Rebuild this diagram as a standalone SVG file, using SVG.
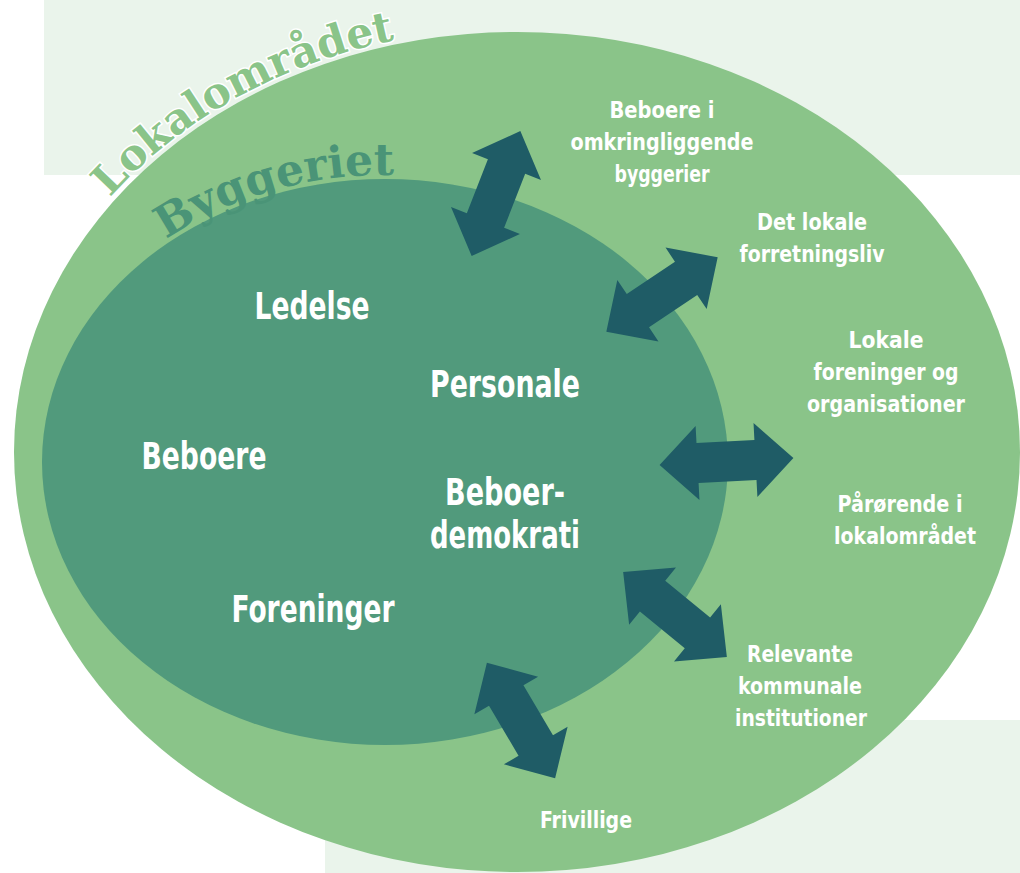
<svg xmlns="http://www.w3.org/2000/svg" xmlns:xlink="http://www.w3.org/1999/xlink" width="1020" height="873" viewBox="0 0 1020 873">
<style>
.lbl{font-family:'DejaVu Sans Condensed','Liberation Sans Narrow','Liberation Sans',sans-serif;font-weight:bold;fill:#ffffff;text-anchor:middle}
.sm{font-size:23px}
.lg{font-size:37px}
.arc{font-family:'DejaVu Serif','Liberation Serif',serif;font-weight:bold}
.arr{fill:#1f5c66}
</style>
<defs>
<path id="arr" d="M-67,0 L-29,-37 L-29,-20 L29,-20 L29,-37 L67,0 L29,37 L29,20 L-29,20 L-29,37 Z"/>
<path id="pLokal" d="M110,197.5 A507,424 0 0 1 605,34.4"/>
<path id="pBygg" d="M166.1,239.3 A347,287 0 0 1 503.7,192.3"/>
</defs>
<rect width="1020" height="873" fill="#ffffff"/>
<rect x="44" y="0" width="976" height="175" fill="#eaf4eb"/>
<rect x="325" y="720" width="695" height="153" fill="#eaf4eb"/>
<g id="lokalomraadet">
<ellipse cx="517" cy="452" rx="503" ry="420" fill="#8ac489"/>
<text class="arc" font-size="42.5" fill="#8ac489" stroke="#ffffff" stroke-width="3" paint-order="stroke"><textPath xlink:href="#pLokal" href="#pLokal">Lokalområdet</textPath></text>
</g>
<g id="byggeriet">
<ellipse cx="385" cy="462" rx="343" ry="283" fill="#519a7c"/>
<text class="arc" font-size="44" fill="#4a9477"><textPath xlink:href="#pBygg" href="#pBygg">Byggeriet</textPath></text>
</g>
<g id="connectors" class="arr">
<use href="#arr" xlink:href="#arr" transform="translate(496,193.5) rotate(-68.7)"/>
<use href="#arr" xlink:href="#arr" transform="translate(662,294.5) rotate(-33.8)"/>
<use href="#arr" xlink:href="#arr" transform="translate(726.5,461.5) rotate(-3)"/>
<use href="#arr" xlink:href="#arr" transform="translate(675,614.5) rotate(39.3)"/>
<use href="#arr" xlink:href="#arr" transform="translate(521,720.5) rotate(59.4)"/>
</g>
<g id="ledelse"><text class="lbl lg" x="312" y="319" textLength="115" lengthAdjust="spacingAndGlyphs">Ledelse</text></g>
<g id="personale"><text class="lbl lg" x="505" y="397" textLength="150" lengthAdjust="spacingAndGlyphs">Personale</text></g>
<g id="beboere"><text class="lbl lg" x="204" y="469" textLength="125" lengthAdjust="spacingAndGlyphs">Beboere</text></g>
<g id="beboerdemokrati"><text class="lbl lg" x="505" y="505" textLength="120" lengthAdjust="spacingAndGlyphs">Beboer-</text><text class="lbl lg" x="505" y="548" textLength="150" lengthAdjust="spacingAndGlyphs">demokrati</text></g>
<g id="foreninger"><text class="lbl lg" x="313" y="622" textLength="163" lengthAdjust="spacingAndGlyphs">Foreninger</text></g>
<g id="omkringliggende"><text class="lbl sm" x="662" y="118" textLength="105" lengthAdjust="spacingAndGlyphs">Beboere i</text><text class="lbl sm" x="662" y="150" textLength="183" lengthAdjust="spacingAndGlyphs">omkringliggende</text><text class="lbl sm" x="662" y="182" textLength="95" lengthAdjust="spacingAndGlyphs">byggerier</text></g>
<g id="forretningsliv"><text class="lbl sm" x="812" y="230" textLength="110" lengthAdjust="spacingAndGlyphs">Det lokale</text><text class="lbl sm" x="812" y="262" textLength="145" lengthAdjust="spacingAndGlyphs">forretningsliv</text></g>
<g id="lokaleforeninger"><text class="lbl sm" x="886" y="348" textLength="75" lengthAdjust="spacingAndGlyphs">Lokale</text><text class="lbl sm" x="886" y="380" textLength="145" lengthAdjust="spacingAndGlyphs">foreninger og</text><text class="lbl sm" x="886" y="412" textLength="158" lengthAdjust="spacingAndGlyphs">organisationer</text></g>
<g id="paaroerende"><text class="lbl sm" x="900" y="512" textLength="125" lengthAdjust="spacingAndGlyphs">Pårørende i</text><text class="lbl sm" x="905" y="544" textLength="142" lengthAdjust="spacingAndGlyphs">lokalområdet</text></g>
<g id="kommunale"><text class="lbl sm" x="800" y="662" textLength="106" lengthAdjust="spacingAndGlyphs">Relevante</text><text class="lbl sm" x="800" y="694" textLength="124" lengthAdjust="spacingAndGlyphs">kommunale</text><text class="lbl sm" x="801" y="726" textLength="132" lengthAdjust="spacingAndGlyphs">institutioner</text></g>
<g id="frivillige"><text class="lbl sm" x="586" y="828" textLength="92" lengthAdjust="spacingAndGlyphs">Frivillige</text></g>
</svg>
